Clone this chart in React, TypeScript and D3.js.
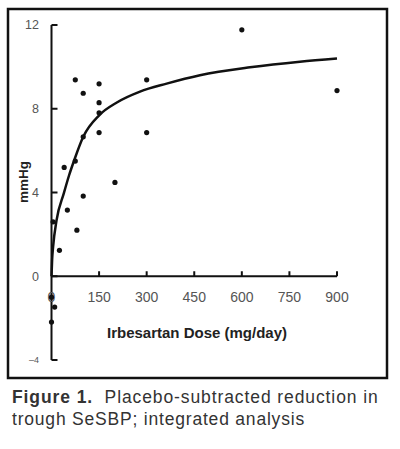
import React from "react";
import * as d3 from "d3";

// dose (mg/day) and placebo-subtracted SeSBP reduction (mmHg)
const pointDoses = [75, 150, 100, 150, 150, 100, 150, 300, 300, 40, 75, 200, 100, 50, 80, 25, 5, 600, 900, 10, 0, 0];
const pointValues = [9.38, 9.19, 8.74, 8.29, 7.81, 6.66, 6.86, 9.38, 6.86, 5.2, 5.5, 4.48, 3.83, 3.16, 2.2, 1.24, 2.6, 11.77, 8.87, -1.47, -2.19, -1.0];

// fitted curve
const curveDoses = [0, 2, 5, 16, 39, 55, 73, 100, 151, 206, 279, 363, 468, 626, 783, 900];
const curveValues = [0, 0.8, 1.4, 2.68, 3.97, 4.8, 5.6, 6.66, 7.7, 8.3, 8.82, 9.2, 9.6, 9.98, 10.25, 10.4];

const xTicks = [0, 150, 300, 450, 600, 750, 900];
const yTicks = [-4, 0, 4, 8, 12];

const W = 400;
const H = 449;

export default function App() {
  const x = d3.scaleLinear().domain([0, 900]).range([51.5, 337]);
  const y = d3.scaleLinear().domain([-4, 12]).range([360, 25]);

  const line = d3
    .line<number>()
    .x((d) => x(d))
    .y((_, i) => y(curveValues[i]))
    .curve(d3.curveMonotoneX);

  const font = "'Liberation Sans', Arial, sans-serif";

  return (
    <svg
      width={W}
      height={H}
      style={{ position: "absolute", left: 0, top: 0, background: "#fff" }}
      fontFamily={font}
    >
      <rect x={8} y={9} width={379} height={369} fill="none" stroke="#111" strokeWidth={2.5} />

      {/* y axis */}
      <line x1={x(0)} x2={x(0)} y1={y(12)} y2={y(-4)} stroke="#111" strokeWidth={2} />
      {yTicks.map((t) => (
        <g key={"y" + t}>
          <line x1={x(0)} x2={x(0) + 6} y1={y(t)} y2={y(t)} stroke="#111" strokeWidth={2} />
          <text
            x={39}
            y={y(t)}
            dy="0.35em"
            textAnchor="end"
            fontSize={t === -4 ? 9 : 12.5}
            fill="#555"
          >
            {t === -4 ? "\u20134" : t}
          </text>
        </g>
      ))}

      {/* x axis */}
      <line x1={x(0)} x2={x(900)} y1={y(0)} y2={y(0)} stroke="#111" strokeWidth={2} />
      {xTicks.map((t) => (
        <g key={"x" + t}>
          {t > 0 && (
            <line x1={x(t)} x2={x(t)} y1={y(0)} y2={y(0) - 5} stroke="#111" strokeWidth={2} />
          )}
          <text x={x(t)} y={302} textAnchor="middle" fontSize={14} fill="#555">
            {t}
          </text>
        </g>
      ))}

      <text
        transform={`translate(28,182) rotate(-90)`}
        textAnchor="middle"
        fontSize={13.5}
        fontWeight="bold"
        fill="#222"
      >
        mmHg
      </text>
      <text x={197} y={338} textAnchor="middle" fontSize={15} fontWeight="bold" fill="#222">
        Irbesartan Dose (mg/day)
      </text>

      <path d={line(curveDoses) ?? ""} fill="none" stroke="#111" strokeWidth={2.5} />

      {pointDoses.map((d, i) => (
        <circle key={i} cx={x(d)} cy={y(pointValues[i])} r={2.6} fill="#111" />
      ))}

      <text x={12} y={403} fontSize={17.5} letterSpacing={0.9} fill="#333">
        <tspan fontWeight="bold">Figure 1.</tspan>
        <tspan>{"\u00a0 Placebo-subtracted reduction in"}</tspan>
      </text>
      <text x={12} y={425} fontSize={17.5} letterSpacing={0.8} fill="#333">
        trough SeSBP; integrated analysis
      </text>
    </svg>
  );
}
